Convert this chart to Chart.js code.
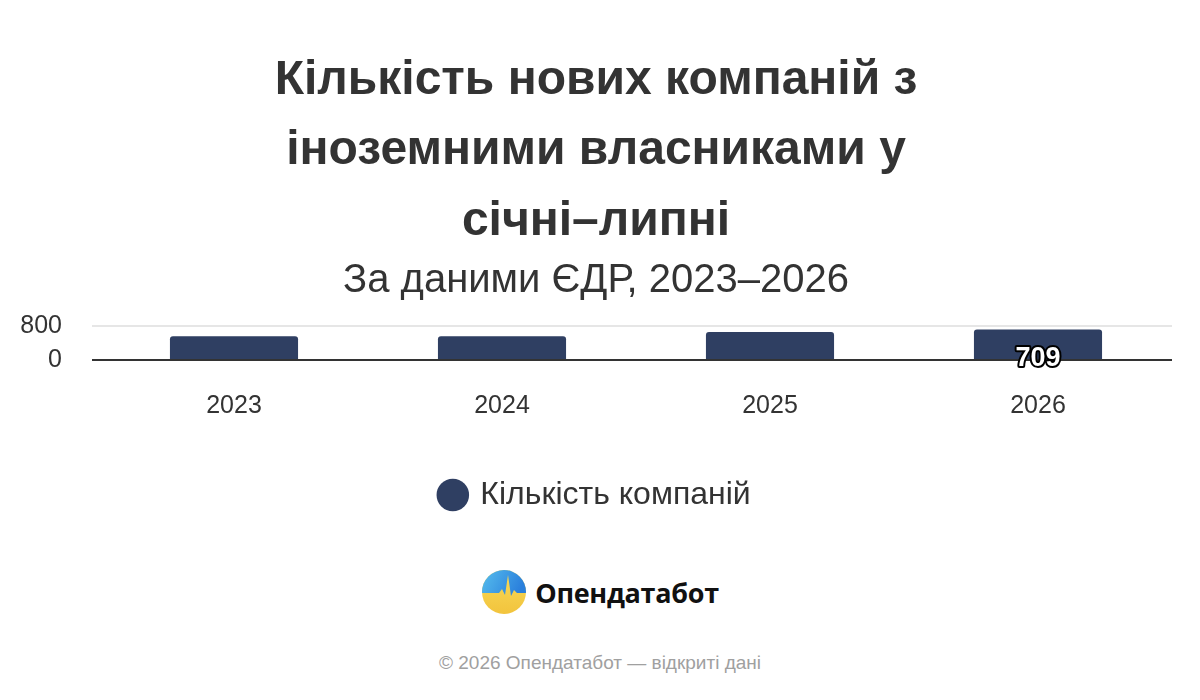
<!DOCTYPE html>
<html lang="uk">
<head>
<meta charset="utf-8">
<script src="https://cdn.jsdelivr.net/npm/chart.js@4"></script>
<style>
  html, body { margin: 0; padding: 0; background: #fff; }
  body { width: 1200px; height: 700px; overflow: hidden; font-family: "Liberation Sans", Arial, sans-serif; }
  #wrap { position: relative; width: 1200px; height: 531px; }
  .brand { position: absolute; left: 0; top: 569px; width: 1200px; display: flex; justify-content: center; align-items: center; }
  .brand span { font-family: "Open Sans", "Noto Sans", sans-serif; font-weight: 700; font-size: 27px; color: #111; margin-left: 8px; letter-spacing: -0.3px; }
  .foot { position: absolute; left: 0; top: 652px; width: 1200px; text-align: center; font-size: 19px; color: #a0a0a0; }
</style>
</head>
<body>
<div id="wrap"><canvas id="myChart"></canvas></div>
<div class="brand">
  <svg width="46" height="46" viewBox="0 0 46 46">
    <defs>
      <linearGradient id="sky" x1="0" y1="0" x2="1" y2="0.3">
        <stop offset="0" stop-color="#58c0ee"/>
        <stop offset="1" stop-color="#2a7fdc"/>
      </linearGradient>
      <linearGradient id="sun" x1="0" y1="0" x2="0" y2="1">
        <stop offset="0" stop-color="#f8dc5a"/>
        <stop offset="1" stop-color="#f2c33c"/>
      </linearGradient>
      <clipPath id="c"><circle cx="23" cy="23" r="22"/></clipPath>
    </defs>
    <g clip-path="url(#c)">
      <rect x="0" y="0" width="46" height="46" fill="url(#sun)"/>
      <path d="M0 0 H46 V24 H36 L33 21 L30 27 L27 6 L24 26 L21 20 L18 24 H0 Z" fill="url(#sky)"/>
    </g>
  </svg>
  <span>Опендатабот</span>
</div>
<div class="foot">© 2026 Опендатабот — відкриті дані</div>
<script>
// дані
const years = ["2023", "2024", "2025", "2026"];
const companies = [556, 553, 653, 709];
const yTicks = [0, 800];

const labelIndex = companies.length - 1;
const FONT = "'Liberation Sans', Arial, sans-serif";

// підпис значення для останнього стовпчика
const valueLabel = {
    id: "valueLabel",
    afterDatasetsDraw(chart) {
        const bar = chart.getDatasetMeta(0).data[labelIndex];
        const c = chart.ctx;
        c.save();
        c.font = "bold 27px " + FONT;
        c.textAlign = "center";
        c.textBaseline = "middle";
        c.lineJoin = "round";
        c.lineWidth = 4;
        c.strokeStyle = "#000";
        c.fillStyle = "#fff";
        const txt = String(companies[labelIndex]);
        c.strokeText(txt, bar.x, bar.base);
        c.fillText(txt, bar.x, bar.base);
        c.restore();
    },
};

(function () {
    const ctx = document.getElementById("myChart");
    new Chart(ctx, {
        type: "bar",
        data: {
            labels: years,
            datasets: [
                {
                    label: "Кількість компаній",
                    data: companies,
                    backgroundColor: "#2f3f62",
                    borderRadius: { topLeft: 3, topRight: 3 },
                    borderSkipped: "bottom",
                    categoryPercentage: 1,
                    barPercentage: 0.478,
                },
            ],
        },
        plugins: [valueLabel],
        options: {
            responsive: true,
            maintainAspectRatio: false,
            animation: false,
            layout: { padding: { top: 22, left: 20, right: 28, bottom: 10 } },
            plugins: {
                title: {
                    display: true,
                    text: ["Кількість нових компаній з", "іноземними власниками у", "січні–липні"],
                    color: "#333",
                    font: { family: FONT, size: 48, weight: "bold", lineHeight: 1.47 },
                    padding: { top: 23, bottom: 0 },
                },
                subtitle: {
                    display: true,
                    text: "За даними ЄДР, 2023–2026",
                    color: "#333",
                    font: { family: FONT, size: 40, lineHeight: 1.2 },
                    padding: { top: 0, bottom: 21 },
                },
                legend: {
                    position: "bottom",
                    labels: {
                        usePointStyle: true,
                        pointStyle: "circle",
                        boxWidth: 23,
                        boxHeight: 23,
                        color: "#333",
                        padding: 35,
                        font: { family: FONT, size: 32 },
                    },
                },
                tooltip: { enabled: false },
            },
            scales: {
                x: {
                    grid: { display: false },
                    border: { display: false },
                    ticks: {
                        color: "#333",
                        padding: 23,
                        font: { family: FONT, size: 25 },
                    },
                },
                y: {
                    min: 0,
                    max: 800,
                    afterBuildTicks(axis) {
                        axis.ticks = yTicks.map((v) => ({ value: v }));
                    },
                    afterFit(axis) {
                        axis.width = 80;
                    },
                    border: { display: false },
                    grid: {
                        drawTicks: true,
                        tickLength: 8,
                        color: (c) => (c.tick && c.tick.value === 0 ? "#333" : "#e6e6e6"),
                        lineWidth: 2,
                    },
                    ticks: {
                        autoSkip: false,
                        color: "#333",
                        padding: 30,
                        font: { family: FONT, size: 25 },
                    },
                },
            },
        },
    });
})();
</script>
</body>
</html>
